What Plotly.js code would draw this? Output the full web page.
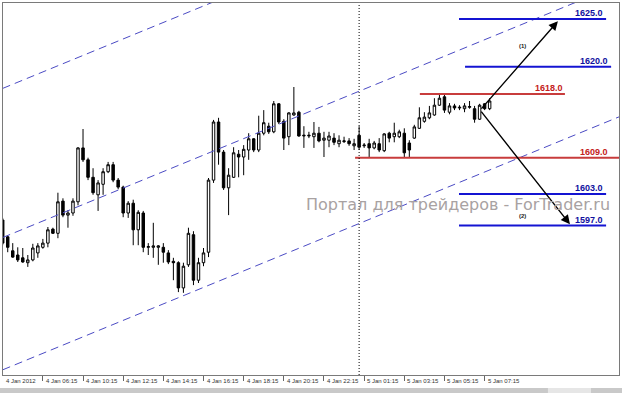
<!DOCTYPE html>
<html><head><meta charset="utf-8">
<script src="https://cdn.plot.ly/plotly-3.0.1.min.js"></script>
<style>html,body{margin:0;padding:0;background:#fff;overflow:hidden}#chart{width:622px;height:393px}</style>
</head><body><div id="chart"></div>
<script>
// ---- data (M15 bars, bar index 0..97) ----
const barOpen = [1600.0,1597.6,1595.6,1595.0,1594.6,1593.9,1594.3,1595.3,1596.1,1596.7,
1598.7,1598.1,1602.7,1600.7,1601.0,1602.6,1610.3,1608.6,1606.1,1603.6,
1605.1,1606.9,1607.9,1605.7,1604.7,1601.0,1602.4,1598.6,1601.0,1596.1,
1596.1,1596.1,1596.1,1595.3,1594.1,1593.9,1590.3,1593.6,1597.9,1591.4,
1593.9,1595.4,1605.7,1614.0,1609.7,1604.6,1606.1,1609.4,1609.0,1610.0,
1611.6,1610.0,1612.4,1613.4,1612.6,1616.6,1614.1,1611.9,1615.0,1615.4,
1612.0,1612.0,1611.9,1612.4,1611.4,1611.4,1611.7,1610.9,1611.2,1611.3,
1610.6,1612.1,1610.6,1610.9,1610.3,1610.9,1609.9,1612.4,1611.9,1611.9,
1612.4,1611.0,1611.7,1613.1,1614.1,1614.6,1615.0,1616.4,1617.6,1615.4,
1616.3,1616.0,1615.9,1616.1,1615.9,1614.4,1616.6,1615.9];
const barHigh = [1600.3,1597.7,1596.7,1596.1,1596.0,1595.0,1596.6,1596.7,1597.3,1599.0,
1598.9,1603.9,1603.1,1601.4,1603.1,1610.4,1613.0,1608.9,1607.4,1605.7,
1607.4,1608.3,1608.3,1606.0,1604.9,1602.7,1602.9,1601.4,1601.3,1596.7,
1599.6,1596.4,1596.7,1595.7,1594.6,1594.1,1593.9,1598.9,1598.4,1594.6,
1596.0,1606.0,1614.3,1614.6,1610.0,1607.4,1610.4,1610.0,1610.7,1612.4,
1611.7,1614.9,1615.7,1613.9,1617.0,1616.7,1614.4,1615.4,1619.0,1615.6,
1613.4,1612.6,1614.0,1613.3,1612.6,1612.6,1612.4,1612.1,1611.9,1611.7,
1611.6,1613.4,1611.0,1611.6,1611.3,1611.7,1612.4,1612.6,1613.9,1612.9,
1613.1,1611.4,1613.6,1616.1,1615.4,1616.3,1617.4,1618.1,1618.1,1616.7,
1616.6,1616.4,1616.7,1617.0,1616.3,1616.6,1616.7,1617.4];
const barLow = [1596.4,1595.4,1594.6,1594.0,1593.9,1593.3,1594.1,1594.6,1595.9,1596.1,
1598.0,1597.4,1600.4,1598.9,1600.6,1602.1,1608.3,1605.7,1603.6,1601.3,
1603.6,1606.7,1605.4,1604.4,1600.4,1600.3,1596.4,1596.4,1595.4,1595.0,
1594.6,1593.6,1593.9,1593.7,1591.4,1589.7,1589.6,1593.3,1590.7,1591.0,
1593.4,1594.7,1605.3,1607.9,1604.3,1600.7,1606.0,1606.1,1606.4,1608.6,
1609.7,1609.7,1612.1,1612.3,1612.4,1613.7,1610.0,1610.7,1614.9,1611.9,
1610.3,1611.7,1610.3,1611.1,1609.0,1610.4,1610.7,1610.4,1611.0,1610.6,
1610.0,1610.0,1610.3,1609.0,1610.1,1609.7,1609.7,1611.1,1611.1,1611.7,
1609.0,1609.0,1611.6,1613.0,1613.9,1614.4,1614.9,1616.3,1615.3,1615.1,
1615.7,1615.7,1615.4,1615.9,1613.9,1614.3,1615.7,1615.7];
const barClose = [1596.7,1596.1,1594.7,1594.3,1594.0,1594.3,1596.0,1596.3,1596.7,1598.6,
1598.1,1602.6,1600.7,1601.0,1602.7,1610.3,1608.6,1606.1,1603.9,1605.3,
1606.9,1607.9,1605.7,1604.7,1601.0,1602.4,1598.6,1601.1,1596.1,1596.2,
1596.3,1596.3,1595.4,1594.0,1593.9,1590.3,1593.4,1598.1,1591.4,1593.9,
1595.3,1605.7,1614.0,1609.7,1604.6,1606.4,1609.6,1609.0,1610.1,1611.6,
1610.0,1612.4,1613.9,1612.6,1616.6,1614.0,1611.7,1615.3,1615.3,1612.0,
1612.1,1612.1,1612.4,1611.3,1611.7,1612.0,1611.1,1611.4,1611.3,1610.9,
1610.9,1610.4,1610.7,1610.3,1611.0,1610.0,1612.3,1611.7,1612.4,1612.6,
1609.6,1610.0,1613.3,1614.6,1614.7,1615.3,1616.4,1617.4,1615.7,1616.3,
1616.0,1616.1,1616.3,1616.2,1614.4,1616.4,1615.9,1617.0];

const tickBars = [0,8,16,24,32,40,48,56,64,72,80,88,96];
const tickLabels = ["4 Jan 2012","4 Jan 06:15","4 Jan 10:15","4 Jan 12:15","4 Jan 14:15","4 Jan 16:15","4 Jan 18:15","4 Jan 20:15","4 Jan 22:15","5 Jan 01:15","5 Jan 03:15","5 Jan 05:15","5 Jan 07:15"];

// channel lines: [startBar, startPrice, endBar, endPrice]
const channelStartBar = [0, 0, 0];
const channelStartPrice = [1618.8, 1597.5, 1578.6];
const channelEndBar = [123, 123, 123];
const channelEndPrice = [1655.0, 1633.7, 1614.8];

// level lines
const levelText = ["1625.0","1620.0","1618.0","1609.0","1603.0","1597.0"];
const levelDrawnAt = [1628.7, 1621.9, 1618.0, 1608.9, 1603.7, 1599.2];
const levelStartBar = [90.9, 92.1, 83.1, 70.2, 90.9, 90.9];
const levelEndBar = [120.2, 121.2, 112.0, 124, 120.2, 120.2];
const levelLabelEnd = [120.0, 121.0, 112.0, 121.0, 120.0, 120.0];
const levelKind = ["target","target","resist","resist","target","target"];

// forecast arrows
const arrowFromBar = 95.1, arrowFromPrice = 1615.7;
const arrowToBar = [110.6, 113.0];
const arrowToPrice = [1628.4, 1599.4];
const arrowText = ["(1)", "(2)"];
const arrowTextBar = [103.6, 103.6];
const arrowTextPrice = [1624.9, 1600.6];

const separatorBar = 71.0;
const watermark = "Портал для трейдеров - ForTrader.ru";

// ---- build ----
const xRange = [0.06, 122.77];
const bars = barOpen.map((_, i) => i);
const traces = [];
traces.push({
  type: 'candlestick', x: bars, open: barOpen, high: barHigh, low: barLow, close: barClose,
  increasing: {line: {color: '#000000', width: 1}, fillcolor: '#ffffff'},
  decreasing: {line: {color: '#000000', width: 1}, fillcolor: '#000000'},
  whiskerwidth: 0, hoverinfo: 'skip', showlegend: false
});
for (let k = 0; k < channelStartBar.length; k++) {
  traces.push({type: 'scatter', mode: 'lines', x: [channelStartBar[k], channelEndBar[k]],
    y: [channelStartPrice[k], channelEndPrice[k]],
    line: {color: '#4b4bc4', width: 1, dash: '8px,5px'}, hoverinfo: 'skip', showlegend: false});
}
const colorOf = {target: '#1414d2', resist: '#c83c3c'};
const textColorOf = {target: '#10109e', resist: '#c42020'};
for (let k = 0; k < levelText.length; k++) {
  traces.push({type: 'scatter', mode: 'lines', x: [levelStartBar[k], levelEndBar[k]],
    y: [levelDrawnAt[k], levelDrawnAt[k]],
    line: {color: colorOf[levelKind[k]], width: 2}, hoverinfo: 'skip', showlegend: false});
}

const annotations = [];
for (let k = 0; k < levelText.length; k++) {
  annotations.push({xref: 'x', yref: 'y', x: levelLabelEnd[k], y: levelDrawnAt[k], text: '<b>' + levelText[k] + '</b>',
    showarrow: false, xanchor: 'right', yanchor: 'middle', yshift: 6,
    font: {family: 'Liberation Sans, Arial, sans-serif', size: 9, color: textColorOf[levelKind[k]]}});
}
for (let k = 0; k < arrowToBar.length; k++) {
  annotations.push({xref: 'x', yref: 'y', axref: 'x', ayref: 'y', x: arrowToBar[k], y: arrowToPrice[k],
    ax: arrowFromBar, ay: arrowFromPrice, text: '', showarrow: true, arrowhead: 2, arrowsize: 1.3,
    arrowwidth: 1.4, arrowcolor: '#000000', standoff: 0, startstandoff: 0});
  annotations.push({xref: 'x', yref: 'y', x: arrowTextBar[k], y: arrowTextPrice[k], text: '<b>' + arrowText[k] + '</b>',
    showarrow: false, font: {family: 'Liberation Sans, Arial, sans-serif', size: 6, color: '#222'}});
}
for (let k = 0; k < tickBars.length; k++) {
  annotations.push({xref: 'x', yref: 'paper', x: Math.max(tickBars[k], xRange[0] + 0.01), y: 0, text: tickLabels[k], showarrow: false,
    xanchor: 'left', yanchor: 'top', xshift: 1, yshift: -1,
    font: {family: 'Liberation Sans, Arial, sans-serif', size: 6, color: '#333'}});
}
annotations.push({xref: 'paper', yref: 'paper', x: 0.9886, y: 0.4570, xanchor: 'right', yanchor: 'middle',
  text: watermark, showarrow: false, font: {family: 'DejaVu Sans, sans-serif', size: 16, color: '#a8a2a2'}});

const layout = {
  width: 622, height: 393, margin: {l: 3, r: 3, t: 3, b: 18},
  paper_bgcolor: '#ffffff', plot_bgcolor: '#ffffff', showlegend: false, hovermode: false,
  xaxis: {type: 'linear', range: xRange, showgrid: false, zeroline: false, showline: true, mirror: true,
    linecolor: '#7a7a7a', linewidth: 1, ticks: 'outside', ticklen: 5, tickcolor: '#666', tickwidth: 1,
    tickvals: tickBars, showticklabels: false, rangeslider: {visible: false}, fixedrange: true},
  yaxis: {range: [1577.86, 1631.0], showgrid: false, zeroline: false, showline: true, mirror: true,
    linecolor: '#7a7a7a', linewidth: 1, ticks: '', showticklabels: false, fixedrange: true},
  shapes: [
    {type: 'line', xref: 'x', yref: 'paper', x0: separatorBar, x1: separatorBar, y0: 0, y1: 1,
      line: {color: '#000000', width: 1, dash: '1px,2px'}},
    {type: 'rect', xref: 'paper', yref: 'paper', x0: -0.01, x1: 1.01, y0: -0.0349, y1: -0.06,
      fillcolor: '#c9c9c9', line: {width: 0}},
    {type: 'rect', xref: 'paper', yref: 'paper', x0: 0.8846, x1: 0.9545, y0: -0.0349, y1: -0.06,
      fillcolor: '#e6e6e6', line: {width: 0}}
  ],
  annotations: annotations
};
Plotly.newPlot('chart', traces, layout, {displayModeBar: false, staticPlot: true});
</script>
</body></html>
